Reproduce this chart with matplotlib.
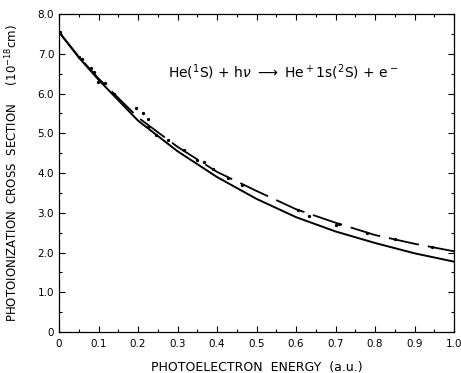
import matplotlib as mpl
import matplotlib.pyplot as plt
from matplotlib.ticker import MultipleLocator
mpl.use('Agg')

# curves (cross section in 1e-18 cm^2)
energy = [0.0, 0.05, 0.1, 0.2, 0.3, 0.4, 0.5, 0.6, 0.7, 0.8, 0.9, 1.0]
sigma_solid = [7.55, 6.91, 6.35, 5.32, 4.55, 3.90, 3.35, 2.89, 2.53, 2.24, 1.98, 1.77]
sigma_dashed = [7.55, 6.93, 6.38, 5.40, 4.66, 4.03, 3.55, 3.09, 2.75, 2.44, 2.22, 2.03]

# measured points
pts_e = [0.003, 0.05, 0.057, 0.08, 0.088, 0.099, 0.117, 0.139, 0.196, 0.212,
         0.224, 0.225, 0.246, 0.275, 0.317, 0.35, 0.368, 0.39, 0.427, 0.462,
         0.604, 0.632, 0.70, 0.708, 0.779, 0.85, 0.943]
pts_s = [7.55, 6.93, 6.88, 6.65, 6.55, 6.30, 6.26, 5.98, 5.63, 5.51,
         5.36, 5.16, 4.96, 4.83, 4.57, 4.34, 4.27, 4.10, 3.87, 3.69,
         3.07, 2.92, 2.69, 2.73, 2.50, 2.33, 2.15]

xticks = [0, 0.1, 0.2, 0.3, 0.4, 0.5, 0.6, 0.7, 0.8, 0.9, 1.0]
xlabels = ["0", "0.1", "0.2", "0.3", "0.4", "0.5", "0.6", "0.7", "0.8", "0.9", "1.0"]
yticks = [0, 1, 2, 3, 4, 5, 6, 7, 8]
ylabels = ["0", "1.0", "2.0", "3.0", "4.0", "5.0", "6.0", "7.0", "8.0"]

fig = plt.figure(figsize=(4.61, 3.73), dpi=100)
ax = fig.add_axes([0.128, 0.110, 0.857, 0.852])

ax.plot(energy, sigma_solid, color="black", lw=1.4)
ax.plot(energy, sigma_dashed, color="black", lw=1.3, dashes=[17, 5])
ax.plot(pts_e, pts_s, "o", color="black", ms=2.4, mew=0)

ax.set_xlim(0, 1.0)
ax.set_ylim(0, 8.0)
ax.set_xticks(xticks)
ax.set_xticklabels(xlabels)
ax.set_yticks(yticks)
ax.set_yticklabels(ylabels)
ax.xaxis.set_minor_locator(MultipleLocator(0.05))
ax.yaxis.set_minor_locator(MultipleLocator(0.5))
ax.tick_params(which="both", direction="in", top=True, right=True, labelsize=7.5)
ax.tick_params(which="major", length=4, width=0.8)
ax.tick_params(which="minor", length=2.5, width=0.8)
ax.tick_params(axis="x", pad=5)
for sp in ax.spines.values():
    sp.set_linewidth(0.9)

ax.text(0.275, 6.54, r"He($^1$S) + h$\nu$ $\longrightarrow$ He$^+$1s($^2$S) + e$^-$",
        fontsize=10, va="center", ha="left")

ax.set_xlabel("PHOTOELECTRON  ENERGY  (a.u.)", fontsize=9, labelpad=9)
ax.set_ylabel(r"PHOTOIONIZATION  CROSS  SECTION     (10$^{-18}$cm)",
              fontsize=8.5, labelpad=12)

fig.savefig("out.png", dpi=100)
plt.close(fig)
